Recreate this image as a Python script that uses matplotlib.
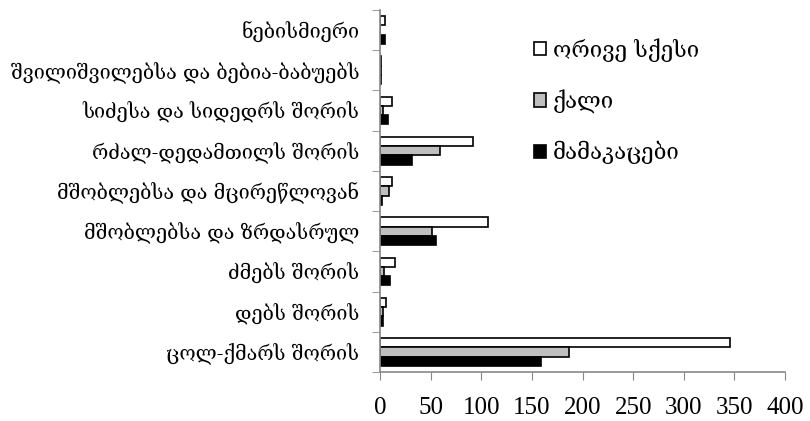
import matplotlib
matplotlib.use("Agg")
import matplotlib.pyplot as plt
import numpy as np
from matplotlib.patches import Patch

categories = [
    "ცოლ-ქმარს შორის",
    "დებს შორის",
    "ძმებს შორის",
    "მშობლებსა და ზრდასრულ",
    "მშობლებსა და მცირეწლოვან",
    "რძალ-დედამთილს შორის",
    "სიძესა და სიდედრს შორის",
    "შვილიშვილებსა და ბებია-ბაბუებს",
    "ნებისმიერი",
]
both = [346, 5.6, 14.8, 107, 11.5, 92, 11.5, 1, 5]
women = [186.5, 2.7, 4, 51.5, 9, 59.5, 3, 0.5, 0]
men = [159, 3.3, 10, 55, 2, 32, 8, 1, 4.5]
series_names = ["ორივე სქესი", "ქალი", "მამაკაცები"]
xticks = [0, 50, 100, 150, 200, 250, 300, 350, 400]

serif = ["Liberation Serif", "DejaVu Serif", "DejaVu Sans"]
geo = ["DejaVu Serif", "DejaVu Sans"]

fig = plt.figure(figsize=(8.1, 4.21), dpi=100)
ax = fig.add_axes([380 / 810, 1 - 372 / 421, 405 / 810, 362 / 421])

y = np.arange(len(categories))
h = 0.23
colors = ["white", "#BFBFBF", "black"]
for i, (vals, c) in enumerate(zip([both, women, men], colors)):
    ax.barh(y + (1 - i) * h, vals, height=h, color=c, edgecolor="black",
            linewidth=1.2)

ax.set_xlim(0, 400)
ax.set_ylim(-0.5, len(categories) - 0.5)
ax.set_xticks(xticks)
ax.set_xticklabels([str(t) for t in xticks], fontsize=18, family=serif)
ax.set_yticks(y)
ax.set_yticklabels(categories, fontsize=14.2, family=geo)
ax.set_yticks(np.arange(-0.5, len(categories), 1), minor=True)
ax.tick_params(axis="y", which="major", length=0, pad=15)
ax.tick_params(axis="y", which="minor", length=6, color="#888888", direction="out")
ax.tick_params(axis="x", which="major", length=6, color="#888888", direction="out", pad=12)
for s in ["top", "right"]:
    ax.spines[s].set_visible(False)
for s in ["left", "bottom"]:
    ax.spines[s].set_color("#888888")
    ax.spines[s].set_linewidth(1.2)

handles = [Patch(facecolor=c, edgecolor="black", linewidth=1.2) for c in colors]
leg = ax.legend(handles, series_names, loc="upper left",
                bbox_to_anchor=(514 / 810, 1 - 18 / 421), bbox_transform=fig.transFigure,
                frameon=False, prop={"family": geo, "size": 16},
                handlelength=0.55, handleheight=0.55, handletextpad=0.3,
                labelspacing=1.25)

fig.savefig("out.png", dpi=100)
